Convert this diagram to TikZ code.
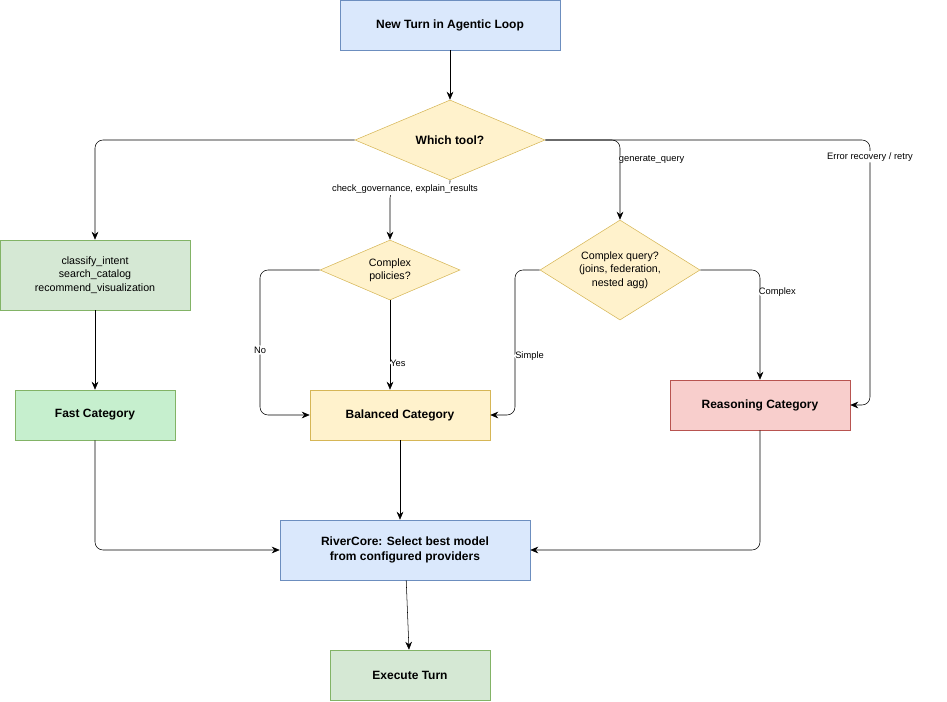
\documentclass[tikz,border=0pt]{standalone}
\usepackage{fontspec}
\setmainfont{Liberation Sans}
\usetikzlibrary{shapes.geometric,arrows.meta}
\definecolor{bluefill}{HTML}{DAE8FC}\definecolor{bluedraw}{HTML}{6C8EBF}
\definecolor{yelfill}{HTML}{FFF2CC}\definecolor{yeldraw}{HTML}{D6B656}
\definecolor{grnfill}{HTML}{D5E8D4}\definecolor{grndraw}{HTML}{82B366}
\definecolor{fastfill}{HTML}{C6EFCE}
\definecolor{redfill}{HTML}{F8CECC}\definecolor{reddraw}{HTML}{B85450}
\tikzset{
  box/.style={draw, rectangle, font=\fontsize{9}{11}\selectfont\bfseries, align=center, inner sep=0pt},
  choice/.style={draw=yeldraw, fill=yelfill, diamond, aspect=2, inner sep=0pt, align=center, font=\fontsize{8}{10}\selectfont},
  edge/.style={draw, -{Stealth[length=6pt,width=5pt]}, rounded corners=6pt},
  lbl/.style={fill=white, inner sep=1pt, font=\fontsize{7}{9}\selectfont}
}
\begin{document}
\begin{tikzpicture}[x=0.75pt,y=-0.75pt]
\useasboundingbox (0,0) rectangle (947,701);
% nodes
\node[box, fill=bluefill, draw=bluedraw, minimum width=165pt, minimum height=37.5pt] (start) at (450,25) {New Turn in Agentic Loop};
\node[choice, minimum width=142.5pt, minimum height=60pt, font=\fontsize{9}{11}\selectfont\bfseries] (tool) at (450,140) {Which tool?};
\node[box, fill=grnfill, draw=grndraw, minimum width=142.5pt, minimum height=52.5pt, font=\fontsize{8}{10}\selectfont] (intent) at (95,275) {classify\_intent\\search\_catalog\\recommend\_visualization};
\node[box, fill=fastfill, draw=grndraw, minimum width=120pt, minimum height=37.5pt] (fast) at (95,415) {Fast Category};
\node[choice, minimum width=105pt, minimum height=45pt] (policy) at (390,270) {Complex\\policies?};
\node[box, fill=yelfill, draw=yeldraw, minimum width=135pt, minimum height=37.5pt] (balanced) at (400,415) {Balanced Category};
\node[choice, minimum width=120pt, minimum height=75pt] (query) at (620,270) {Complex query?\\(joins, federation,\\nested agg)};
\node[box, fill=redfill, draw=reddraw, minimum width=135pt, minimum height=37.5pt] (reason) at (760,405) {Reasoning Category};
\node[box, fill=bluefill, draw=bluedraw, minimum width=187.5pt, minimum height=45pt] (river) at (405,550) {RiverCore: Select best model\\from configured providers};
\node[box, fill=grnfill, draw=grndraw, minimum width=120pt, minimum height=37.5pt] (exec) at (410,675) {Execute Turn};
% connectors
\draw[edge] (start) -- (tool);
\draw[edge] (tool.west) -| (intent.north);
\draw[edge] (tool.south) |- (420,190) -| node[lbl, pos=0.25, above=-4pt] {check\_governance, explain\_results} (policy.north);
\draw[edge] (tool.east) -| node[lbl, pos=0.62, right=-2pt] {generate\_query} (query.north);
\draw[edge] (tool.east) -| (870,300) node[lbl, pos=0.55, above=-5pt] {Error recovery / retry} |- (reason.east);
\draw[edge] (intent) -- (fast);
\draw[edge] (policy.west) -| (260,350) node[lbl] {No} |- (balanced.west);
\draw[edge] (policy.south) -- node[lbl, pos=0.7, right=-1pt] {Yes} (policy.south |- balanced.north);
\draw[edge] (query.west) -| (515,356) node[lbl, right=-1pt] {Simple} |- (balanced.east);
\draw[edge] (query.east) -| node[lbl, pos=0.6, right=-2pt] {Complex} (reason.north);
\draw[edge] (fast.south) |- (river.west);
\draw[edge] (balanced.south) -- (balanced.south |- river.north);
\draw[edge] (reason.south) |- (river.east);
\draw[edge] (river) -- (exec);
\end{tikzpicture}
\end{document}
